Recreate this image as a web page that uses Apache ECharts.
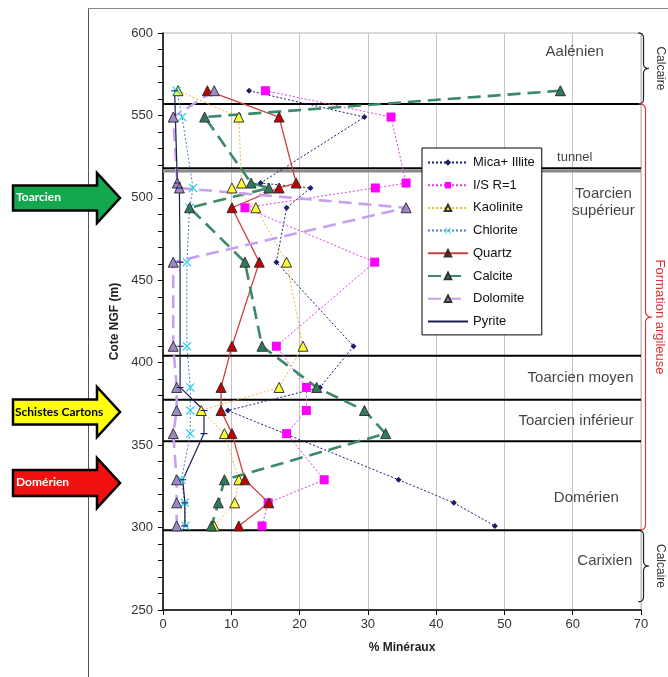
<!DOCTYPE html>
<html><head><meta charset="utf-8">
<script src="https://cdn.jsdelivr.net/npm/echarts@6/dist/echarts.min.js"></script>
<style>html,body{margin:0;padding:0;background:#fff}#c{width:668px;height:677px}</style>
</head><body><div id="c"></div><script>
// ---- data ----
const depths      = [565, 549, 509, 506, 494, 461, 410, 385, 371, 357, 329, 315, 301];
const micaIllite  = [12.6, 29.5, 14.3, 21.6, 18.1, 16.6, 27.9, 23.0, 9.5, null, 34.5, 42.6, 48.6];
const isR1        = [15.0, 33.4, 35.6, 31.1, 12.0, 31.0, 16.6, 21.0, 21.0, 18.1, 23.6, 15.4, 14.5];
const kaolinite   = [2.2, 11.1, 11.5, 10.1, 13.6, 18.1, 20.5, 17.0, 5.6, 9.0, 11.1, 10.5, 7.5];
const chlorite    = [2.0, 2.8, null, 4.4, 3.9, 3.5, 3.5, 4.0, 4.0, 4.0, 2.7, 3.2, 3.3];
const quartz      = [6.5, 17.0, 19.5, 17.0, 10.1, 14.1, 10.1, 8.5, 8.5, 10.1, 12.0, 15.5, 11.1];
const calcite     = [58.2, 6.1, 12.9, 15.5, 3.9, 12.0, 14.5, 22.5, 29.5, 32.6, 9.0, 8.1, 7.1];
const dolomite    = [7.5, 1.5, 2.1, 2.4, 35.6, 1.5, 1.5, 2.0, 2.0, 1.5, 2.0, 2.0, 2.0];
const pyrite      = [1.7, null, 2.1, 2.4, null, 2.5, 2.5, 2.5, 6.0, 6.0, 2.9, 3.2, 3.2];
const seriesNames = ['Mica+ Illite', 'I/S R=1', 'Kaolinite', 'Chlorite', 'Quartz', 'Calcite', 'Dolomite', 'Pyrite'];
const boundaries  = [557, 518, 404.3, 377.5, 352.4, 298.4];
const tunnelShadow = 516.3;
const unitLabels  = ['Aalénien', 'tunnel', 'Toarcien\nsupérieur', 'Toarcien moyen', 'Toarcien inférieur', 'Domérien', 'Carixien'];
const unitLabelAt = [[60.3, 588.6], [60.3, 524.5], [64.5, 497.5], [68.9, 391], [68.9, 365], [62.0, 318.3], [64.7, 280]];
const arrowLabels = ['Toarcien', 'Schistes Cartons', 'Domérien'];
const sideLabels  = ['Calcaire', 'Formation argileuse', 'Calcaire'];
const xAxisName = '% Minéraux';
const yAxisName = 'Cote NGF (m)';

// ---- styles ----
const FONT = 'Liberation Sans, Arial, sans-serif';
const xMark = 'path://M1,0 L5,4 L9,0 L10,1 L6,5 L10,9 L9,10 L5,6 L1,10 L0,9 L4,5 L0,1 Z';
const dash = 'path://M0,0 L0.001,0 L0,0.001 Z M0,4.2 L10,4.2 L10,5.8 L0,5.8 Z M10,10 L9.999,10 L10,9.999 Z';
const styles = [
  {line:{color:'#1d1d6e', width:1, type:[2,2]}, symbol:'diamond', size:6, item:{color:'#1d1d6e'}},
  {line:{color:'#e040e0', width:1, type:[2,2]}, symbol:'rect', size:9, item:{color:'#ff00ff'}},
  {line:{color:'#f0b830', width:1, type:[2,2]}, symbol:'triangle', size:10, item:{color:'#ffff30', borderColor:'#333', borderWidth:1}},
  {line:{color:'#4a80c8', width:1, type:[2,2]}, symbol:xMark, size:9, item:{color:'#30d0f0'}},
  {line:{color:'#d04040', width:1.3, type:'solid'}, symbol:'triangle', size:10, item:{color:'#c00000', borderColor:'#333', borderWidth:1}},
  {line:{color:'#3a8a68', width:2.6, type:[13,7]}, symbol:'triangle', size:10, item:{color:'#2f7a5a', borderColor:'#333', borderWidth:1}},
  {line:{color:'#c8a0f0', width:2.6, type:[13,7]}, symbol:'triangle', size:10, item:{color:'#a088c8', borderColor:'#333', borderWidth:1}},
  {line:{color:'#1d1d50', width:1.2, type:'solid'}, symbol:dash, size:7, item:{color:'#1d1d6e'}}
];
const valueSets = [micaIllite, isR1, kaolinite, chlorite, quartz, calcite, dolomite, pyrite];

function pts(vals){ const out=[]; vals.forEach((v,i)=>{ if(v!=null) out.push([v, depths[i]]); }); return out; }

const series = [];
boundaries.forEach((b, i) => {
  series.push({type:'line', name:'b'+i, data:[[0,b],[70,b]], symbol:'none', silent:true, z:3,
    lineStyle:{color:'#000', width:2}});
});
series.push({type:'line', name:'tunnel2', data:[[0,tunnelShadow],[70,tunnelShadow]], symbol:'none', silent:true, z:3,
  lineStyle:{color:'#8a8a8a', width:3}});
seriesNames.forEach((n, i) => {
  const s = styles[i];
  series.push({type:'line', name:n, data:pts(valueSets[i]), symbol:s.symbol, symbolSize:s.size, showAllSymbol:true,
    lineStyle:s.line, itemStyle:s.item, z:5, silent:true, animation:false});
});
series.push({type:'scatter', name:'annot', symbolSize:0, silent:true, z:6,
  data: unitLabels.map((t, i) => {
    const right = (t === 'Toarcien moyen' || t === 'Toarcien inférieur');
    return {value: unitLabelAt[i], label:{show:true, position:'inside', formatter:t,
      align: right ? 'right' : 'center', verticalAlign:'middle', color:'#111',
      fontFamily:FONT, fontSize: t === 'tunnel' ? 13 : 15, lineHeight:17}};
  })});

const chart = echarts.init(document.getElementById('c'));
chart.setOption({
  animation:false,
  backgroundColor:'#fff',
  grid:{left:163, right:27, top:33, bottom:67, show:true, borderColor:'#b4b4b4', borderWidth:1, backgroundColor:'transparent'},
  xAxis:{type:'value', min:0, max:70, interval:10, name:xAxisName, nameLocation:'middle', nameGap:32,
    nameTextStyle:{fontFamily:FONT, fontWeight:'bold', fontSize:12, color:'#222'},
    axisLine:{lineStyle:{color:'#000', width:1.5}}, axisTick:{show:true, inside:false, length:5, lineStyle:{color:'#000'}},
    axisLabel:{fontFamily:FONT, fontSize:13, color:'#333', margin:8},
    splitLine:{show:true, lineStyle:{color:'#c4c4c4', width:1}}},
  yAxis:{type:'value', min:250, max:600, interval:50, name:yAxisName, nameLocation:'middle', nameGap:33,
    nameTextStyle:{fontFamily:FONT, fontWeight:'bold', fontSize:12, color:'#222'},
    axisLine:{show:true, lineStyle:{color:'#000', width:1.5}}, axisTick:{show:true, inside:false, length:5, lineStyle:{color:'#000'}},
    minorTick:{show:true, splitNumber:5, length:5, lineStyle:{color:'#000'}},
    axisLabel:{fontFamily:FONT, fontSize:13, color:'#333', margin:10},
    splitLine:{show:false}},
  legend:{data:seriesNames, orient:'vertical', left:422, top:148, backgroundColor:'#fff', borderColor:'#000', borderWidth:1,
    padding:[7,7,6,5], itemGap:7.7, itemWidth:40, itemHeight:8, z:10,
    textStyle:{fontFamily:FONT, fontSize:13, color:'#111', lineHeight:15}},
  series: series
});

// ---- decorations outside the plot ----
const py = v => chart.convertToPixel({yAxisIndex:0}, v);
function quad(p0, p1, p2, out){ for(let t=0;t<=1.0001;t+=0.1){ const a=(1-t)*(1-t), b=2*(1-t)*t, c=t*t;
  out.push([a*p0[0]+b*p1[0]+c*p2[0], a*p0[1]+b*p1[1]+c*p2[1]]); } }
function brace(x0, y1, y2, w, r){
  const ym=(y1+y2)/2, xm=x0+w/2, p=[];
  quad([x0,y1],[xm,y1],[xm,y1+r],p); p.push([xm,ym-r]);
  quad([xm,ym-r],[xm,ym],[x0+w,ym],p); quad([x0+w,ym],[xm,ym],[xm,ym+r],p);
  p.push([xm,y2-r]); quad([xm,y2-r],[xm,y2],[x0,y2],p); return p;
}
function arrow(yc, body, head, fill){
  const xl=13, xb=97, xt=120;
  return {type:'polygon', z:20, shape:{points:[[xl,yc-body],[xb,yc-body],[xb,yc-head],[xt,yc],[xb,yc+head],[xb,yc+body],[xl,yc+body]]},
    style:{fill:fill, stroke:'#000', lineWidth:2.5, lineJoin:'miter'}};
}
const yTop = py(600), yB0 = py(boundaries[0]), yB5 = py(boundaries[5]), yLow = py(255);
const g = [
  {type:'line', z:1, shape:{x1:88.5, y1:8, x2:88.5, y2:677}, style:{stroke:'#555', lineWidth:1}},
  {type:'line', z:1, shape:{x1:88, y1:8.5, x2:668, y2:8.5}, style:{stroke:'#888', lineWidth:1}},
  arrow(198, 12.5, 25, '#13a84e'),
  {type:'text', z:21, x:16, y:197, style:{text:arrowLabels[0], fill:'#fff', font:'bold 12px Lato, sans-serif', align:'left', verticalAlign:'middle'}},
  arrow(412, 12.5, 25, '#ffff10'),
  {type:'text', z:21, x:15, y:412, style:{text:arrowLabels[1], fill:'#000', font:'bold 12px Lato, sans-serif', align:'left', verticalAlign:'middle'}},
  arrow(483, 13, 25, '#f01010'),
  {type:'text', z:21, x:16, y:482, style:{text:arrowLabels[2], fill:'#fff', font:'bold 12px Lato, sans-serif', align:'left', verticalAlign:'middle'}},
  {type:'polyline', z:20, shape:{points:brace(638, yTop, yB0, 11, 5)}, style:{stroke:'#222', lineWidth:1.2, fill:null}},
  {type:'polyline', z:20, shape:{points:brace(639, yB0, yB5, 13, 6)}, style:{stroke:'#e03838', lineWidth:1.2, fill:null}},
  {type:'polyline', z:20, shape:{points:brace(638, yB5, yLow, 11, 5)}, style:{stroke:'#222', lineWidth:1.2, fill:null}},
  {type:'text', z:21, x:660, y:(yTop+yB0)/2, rotation:-Math.PI/2, style:{text:sideLabels[0], fill:'#333', font:'12px '+FONT, align:'center', verticalAlign:'middle'}},
  {type:'text', z:21, x:660, y:(yB0+yB5)/2, rotation:-Math.PI/2, style:{text:sideLabels[1], fill:'#e03030', font:'13px '+FONT, align:'center', verticalAlign:'middle'}},
  {type:'text', z:21, x:660, y:(yB5+yLow)/2, rotation:-Math.PI/2, style:{text:sideLabels[2], fill:'#333', font:'12px '+FONT, align:'center', verticalAlign:'middle'}}
];
chart.setOption({graphic:{elements:g}});
</script></body></html>
